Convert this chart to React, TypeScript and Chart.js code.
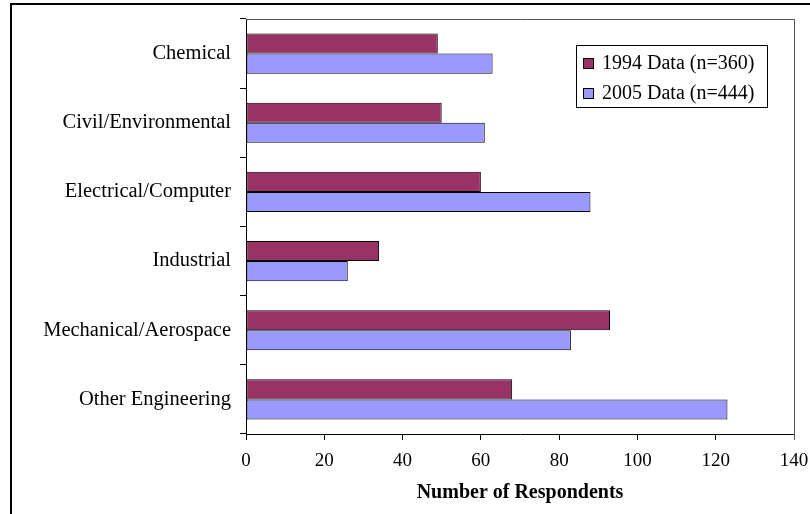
import React, { useEffect, useRef } from "react";
import { Chart, registerables } from "chart.js";

Chart.register(...registerables);

const categories = [
  "Chemical",
  "Civil/Environmental",
  "Electrical/Computer",
  "Industrial",
  "Mechanical/Aerospace",
  "Other Engineering",
];
const data1994 = [49, 50, 60, 34, 93, 68];
const data2005 = [63, 61, 88, 26, 83, 123];
const series1Label = "1994 Data (n=360)";
const series2Label = "2005 Data (n=444)";
const xTitle = "Number of Respondents";

const FONT = "'Liberation Serif', 'Times New Roman', serif";

const framePlugin = {
  id: "frame",
  beforeDraw(chart: any) {
    const ctx = chart.ctx;
    ctx.save();
    ctx.fillStyle = "#ffffff";
    ctx.fillRect(0, 0, chart.width, chart.height);
    ctx.strokeStyle = "#000000";
    ctx.lineWidth = 2;
    ctx.strokeRect(11, 4, chart.width + 20, chart.height + 20);
    ctx.restore();
  },
  afterDraw(chart: any) {
    const ctx = chart.ctx;
    const a = chart.chartArea;
    ctx.save();
    ctx.strokeStyle = "#555555";
    ctx.lineWidth = 1;
    ctx.beginPath();
    ctx.moveTo(Math.round(a.left) + 0.5, Math.round(a.top) + 0.5);
    ctx.lineTo(Math.round(a.right) + 0.5, Math.round(a.top) + 0.5);
    ctx.lineTo(Math.round(a.right) + 0.5, Math.round(a.bottom) + 6);
    ctx.stroke();

    // legend box
    const bx = 576, by = 45, bw = 191, bh = 62;
    ctx.fillStyle = "#ffffff";
    ctx.fillRect(bx, by, bw, bh);
    ctx.strokeStyle = "#000000";
    ctx.strokeRect(bx + 0.5, by + 0.5, bw, bh);
    ctx.font = `20px ${FONT}`;
    ctx.textBaseline = "middle";
    chart.data.datasets.forEach((ds: any, i: number) => {
      const cy = by + 18 + i * 30;
      ctx.fillStyle = ds.backgroundColor;
      ctx.fillRect(583, cy - 5, 10, 10);
      ctx.strokeStyle = "#000000";
      ctx.strokeRect(583.5, cy - 5 + 0.5, 10, 10);
      ctx.fillStyle = "#000000";
      ctx.fillText(ds.label, 602, cy + 1);
    });
    ctx.restore();
  },
};

export default function App() {
  const ref = useRef<HTMLCanvasElement>(null);
  useEffect(() => {
    if (!ref.current) return;
    const chart = new Chart(ref.current, {
      type: "bar",
      data: {
        labels: categories,
        datasets: [
          {
            label: series1Label,
            data: data1994,
            backgroundColor: "#993366",
            borderColor: "#000000",
            borderWidth: 1,
            borderSkipped: false,
            categoryPercentage: 0.58,
            barPercentage: 1,
          },
          {
            label: series2Label,
            data: data2005,
            backgroundColor: "#9999FF",
            borderColor: "#000000",
            borderWidth: 1,
            borderSkipped: false,
            categoryPercentage: 0.58,
            barPercentage: 1,
          },
        ],
      },
      options: {
        indexAxis: "y",
        animation: false,
        responsive: false,
        maintainAspectRatio: false,
        layout: { autoPadding: false, padding: { left: 0, top: 19, right: 16, bottom: 0 } },
        plugins: {
          legend: { display: false },
          tooltip: { enabled: false },
          title: { display: false },
        },
        scales: {
          x: {
            min: 0,
            max: 140,
            ticks: {
              stepSize: 20,
              color: "#000000",
              font: { family: FONT, size: 19 },
              padding: 10,
              maxRotation: 0,
            },
            grid: {
              drawOnChartArea: false,
              drawTicks: true,
              tickLength: 6,
              color: "#000000",
            },
            border: { color: "#000000", width: 1 },
            title: {
              display: true,
              text: xTitle,
              color: "#000000",
              font: { family: FONT, size: 20, weight: "bold" },
              padding: { top: 4, bottom: 9 },
            },
            afterFit(scale: any) {
              scale.height = 80;
              scale.paddingLeft = 0;
              scale.paddingRight = 0;
            },
          },
          y: {
            ticks: {
              color: "#000000",
              font: { family: FONT, size: 20.5 },
              padding: 9,
            },
            grid: {
              offset: true,
              drawOnChartArea: false,
              drawTicks: true,
              tickLength: 6,
              color: "#000000",
            },
            border: { color: "#000000", width: 1 },
            afterFit(scale: any) {
              scale.width = 246;
              scale.paddingTop = 0;
              scale.paddingBottom = 0;
            },
          },
        },
      },
      plugins: [framePlugin],
    });
    return () => chart.destroy();
  }, []);
  return (
    <div style={{ position: "absolute", left: 0, top: 0, width: 810, height: 514 }}>
      <canvas ref={ref} width={810} height={514} style={{ display: "block" }} />
    </div>
  );
}
